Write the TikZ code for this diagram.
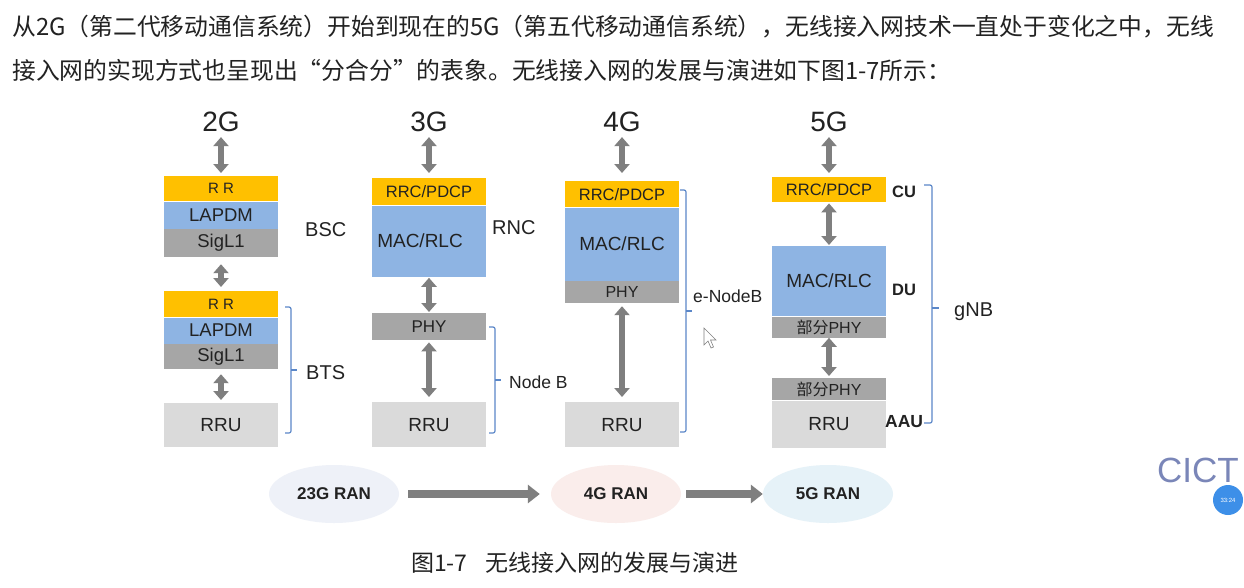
\documentclass[tikz,border=0pt]{standalone}
\usepackage{fontspec}
\setmainfont{Liberation Sans}
\newfontfamily\cjk{Noto Sans CJK SC}
\usetikzlibrary{chains,positioning,shapes.geometric,arrows.meta}
\definecolor{rrorange}{HTML}{FFC000}
\definecolor{macblue}{HTML}{8EB4E3}
\definecolor{phygray}{HTML}{A6A6A6}
\definecolor{rrugray}{HTML}{DADADA}
\definecolor{arrgray}{HTML}{7F7F7F}
\definecolor{brblue}{HTML}{5B87C8}
\definecolor{txtdark}{HTML}{222222}
\definecolor{ranA}{HTML}{EEF1F8}
\definecolor{ranB}{HTML}{FAEDEB}
\definecolor{ranC}{HTML}{E6F2F8}
\definecolor{cictblue}{HTML}{7A86B8}
\definecolor{badge}{HTML}{3D8FE8}

\begin{document}
\begin{tikzpicture}[x=1pt,y=-1pt,node distance=0pt,
    box/.style={rectangle,inner sep=0pt,minimum width=114pt,text=txtdark},
    rrc/.style={box,fill=rrorange},
    mac/.style={box,fill=macblue},
    phy/.style={box,fill=phygray},
    rru/.style={box,fill=rrugray},
    gen/.style={inner sep=2pt,text=txtdark,font=\fontsize{28}{28}\selectfont},
    tag/.style={anchor=west,inner sep=0pt,text=txtdark,font=\fontsize{20}{20}\selectfont},
    dbl/.style={draw=arrgray,line width=6pt,{Triangle[width=15pt,length=9pt]}-{Triangle[width=15pt,length=9pt]}},
    fat/.style={draw=arrgray,line width=8pt,-{Triangle[width=18pt,length=12pt]}},
    bracket/.style={draw=brblue,line width=1.2pt,rounded corners=2pt},
    ran/.style={ellipse,minimum width=130pt,minimum height=58pt,text=txtdark,font=\bfseries\fontsize{17}{17}\selectfont}]

  \fill[white] (0,0) rectangle (1244,587);
  \useasboundingbox (0,0) rectangle (1244,587);

  % intro text
  \node[anchor=west,inner sep=0pt,text=txtdark,font=\cjk\fontsize{23.8}{24}\selectfont] (L1) at (12,27)
    {从2G（第二代移动通信系统）开始到现在的5G（第五代移动通信系统），无线接入网技术一直处于变化之中，无线};
  \node[anchor=west,inner sep=0pt,text=txtdark,font=\cjk\fontsize{23.8}{24}\selectfont] (L2) at (12,70)
    {接入网的实现方式也呈现出“分合分”的表象。无线接入网的发展与演进如下图1-7所示：};

  % 2G
  \node[gen] (G2) at (221,122) {2G};
  \begin{scope}[start chain=bsc going below]
    \node[rrc,on chain,anchor=north,minimum height=25pt,font=\fontsize{15}{15}\selectfont] (RRa) at (221,176) {R R};
    \node[mac,on chain,minimum height=27pt,font=\fontsize{18.5}{18}\selectfont] (LAPa) {LAPDM};
    \node[phy,on chain,minimum height=28pt,font=\fontsize{18.5}{18}\selectfont] (SIGa) {SigL1};
  \end{scope}
  \begin{scope}[start chain=bts going below]
    \node[rrc,on chain,anchor=north,minimum height=26pt,font=\fontsize{15}{15}\selectfont] (RRb) at (221,291) {R R};
    \node[mac,on chain,minimum height=26pt,font=\fontsize{18.5}{18}\selectfont] (LAPb) {LAPDM};
    \node[phy,on chain,minimum height=25pt,font=\fontsize{18.5}{18}\selectfont] (SIGb) {SigL1};
  \end{scope}
  \node[rru,anchor=north,minimum height=44pt,font=\fontsize{19}{19}\selectfont] (RRU2) at (221,403) {RRU};
  \draw[dbl,shorten <=3pt,shorten >=3pt] (G2) -- (RRa);
  \draw[dbl,shorten <=7pt,shorten >=4pt] (SIGa) -- (RRb);
  \draw[dbl,shorten <=5pt,shorten >=3pt] (SIGb) -- (RRU2);
  \node[tag] (BSC) at (305,230) {BSC};
  \draw[bracket] (285,307) -- (291,307) -- (291,433) -- (285,433);
  \draw[bracket] (291,370) -- (297,370);
  \node[tag] (BTS) at (306,373) {BTS};

  % 3G
  \node[gen] (G3) at (429,122) {3G};
  \begin{scope}[start chain=rnc going below]
    \node[rrc,on chain,anchor=north,minimum height=27pt,font=\fontsize{16.5}{16}\selectfont] (RRC3) at (429,178) {RRC/PDCP};
    \node[mac,on chain,minimum height=71pt,font=\fontsize{19}{19}\selectfont] (MAC3) {\hspace*{-18pt}MAC/RLC};
  \end{scope}
  \node[phy,anchor=north,minimum height=27pt,font=\fontsize{17}{17}\selectfont] (PHY3) at (429,313) {PHY};
  \node[rru,anchor=north,minimum height=45pt,font=\fontsize{19}{19}\selectfont] (RRU3) at (429,402) {RRU};
  \draw[dbl,shorten <=3pt,shorten >=5pt] (G3) -- (RRC3);
  \draw[dbl,shorten <=1pt,shorten >=1pt] (MAC3) -- (PHY3);
  \draw[dbl,shorten <=2pt,shorten >=5pt] (PHY3) -- (RRU3);
  \node[tag] (RNC) at (492,228) {RNC};
  \draw[bracket] (489,327) -- (495,327) -- (495,433) -- (489,433);
  \draw[bracket] (495,380) -- (501,380);
  \node[tag,font=\fontsize{17.5}{17}\selectfont] (NB) at (509,382) {Node B};

  % 4G
  \node[gen] (G4) at (622,122) {4G};
  \begin{scope}[start chain=enb going below]
    \node[rrc,on chain,anchor=north,minimum height=26pt,font=\fontsize{16.5}{16}\selectfont] (RRC4) at (622,181) {RRC/PDCP};
    \node[mac,on chain,minimum height=73pt,font=\fontsize{19}{19}\selectfont] (MAC4) {MAC/RLC};
    \node[phy,on chain,minimum height=22pt,font=\fontsize{16}{16}\selectfont] (PHY4) {PHY};
  \end{scope}
  \node[rru,anchor=north,minimum height=45pt,font=\fontsize{19}{19}\selectfont] (RRU4) at (622,402) {RRU};
  \draw[dbl,shorten <=3pt,shorten >=8pt] (G4) -- (RRC4);
  \draw[dbl,shorten <=3pt,shorten >=5pt] (PHY4) -- (RRU4);
  \draw[bracket] (680,190) -- (686,190) -- (686,432) -- (680,432);
  \draw[bracket] (686,311) -- (692,311);
  \node[tag,font=\fontsize{17.5}{17}\selectfont] (ENB) at (693,296) {e-NodeB};
  \draw[draw=gray,fill=white,line width=0.6pt] (704,328) -- (704,345) -- (708,341) -- (711,348) -- (713.5,347)
    -- (710.5,340) -- (716,340) -- cycle;

  % 5G
  \node[gen] (G5) at (829,122) {5G};
  \node[rrc,anchor=north,minimum height=25pt,font=\fontsize{16.5}{16}\selectfont] (RRC5) at (829,177) {RRC/PDCP};
  \begin{scope}[start chain=du going below]
    \node[mac,on chain,anchor=north,minimum height=70pt,font=\fontsize{19}{19}\selectfont] (MAC5) at (829,246) {MAC/RLC};
    \node[phy,on chain,minimum height=21pt,font=\fontsize{16}{16}\selectfont] (PHY5a) {{\cjk 部分}PHY};
  \end{scope}
  \begin{scope}[start chain=aau going below]
    \node[phy,on chain,anchor=north,minimum height=22pt,font=\fontsize{16}{16}\selectfont] (PHY5b) at (829,378) {{\cjk 部分}PHY};
    \node[rru,on chain,minimum height=47pt,font=\fontsize{19}{19}\selectfont] (RRU5) {RRU};
  \end{scope}
  \draw[dbl,shorten <=3pt,shorten >=4pt] (G5) -- (RRC5);
  \draw[dbl,shorten <=1pt,shorten >=1pt] (RRC5) -- (MAC5);
  \draw[dbl,shorten <=0pt,shorten >=2pt] (PHY5a) -- (PHY5b);
  \node[tag,font=\bfseries\fontsize{16.5}{16}\selectfont] (CU) at (892,192) {CU};
  \node[tag,font=\bfseries\fontsize{16.5}{16}\selectfont] (DU) at (892,290) {DU};
  \node[tag,font=\bfseries\fontsize{17.5}{17}\selectfont] (AAU) at (885,422) {AAU};
  \draw[bracket] (924,185) -- (932,185) -- (932,423) -- (924,423);
  \draw[bracket] (932,308) -- (939,308);
  \node[tag] (GNB) at (954,312) {gNB};

  % evolution
  \node[ran,fill=ranA] (R23) at (334,494) {23G RAN};
  \node[ran,fill=ranB] (R4) at (616,494) {4G RAN};
  \node[ran,fill=ranC] (R5) at (828,494) {5G RAN};
  \draw[fat,shorten <=9pt,shorten >=11pt] (R23) -- (R4);
  \draw[fat,shorten <=5pt,shorten >=0pt] (R4) -- (R5);

  % caption
  \node[inner sep=0pt,text=txtdark,font=\cjk\fontsize{23}{23}\selectfont] (CAP) at (575,563)
    {图1-7\hspace{0.8em}无线接入网的发展与演进};

  \node[inner sep=0pt,text=cictblue,font=\fontsize{35}{35}\selectfont] (LOGO) at (1198,470) {CICT};
  \node[circle,fill=badge,minimum size=30pt,inner sep=0pt,text=white,font=\fontsize{6}{6}\selectfont] (CLK) at (1228,500) {33:24};
\end{tikzpicture}
\end{document}
